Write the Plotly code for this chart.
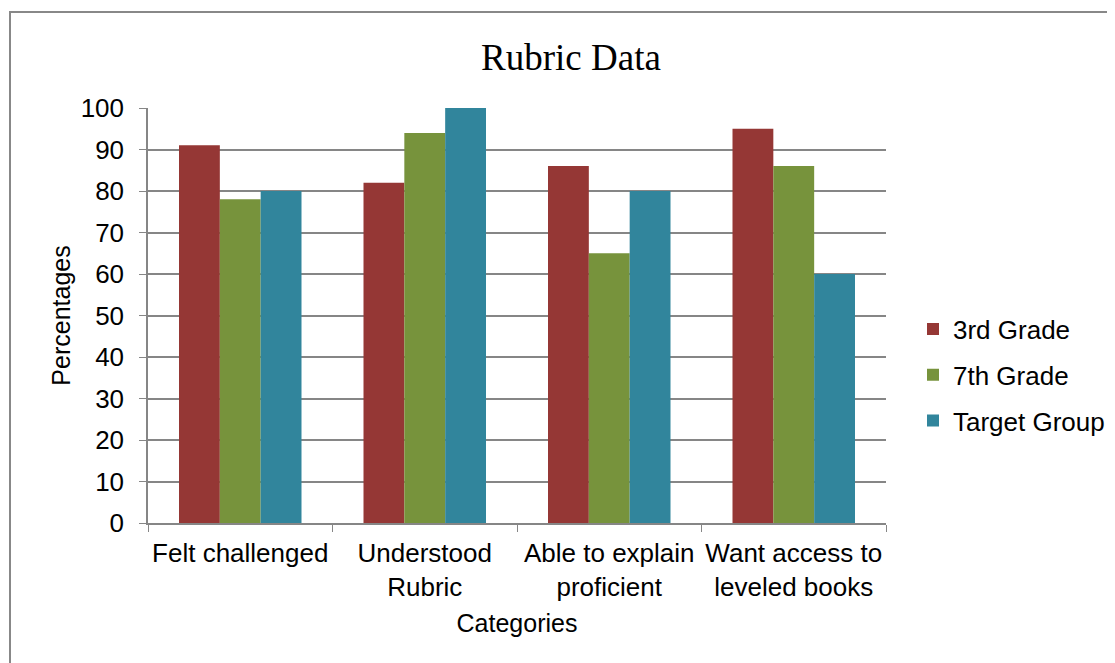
import plotly.graph_objects as go

categories = ["Felt challenged", "Understood<br>Rubric", "Able to explain<br>proficient", "Want access to<br>leveled books"]
grade3 = [91, 82, 86, 95]
grade7 = [78, 94, 65, 86]
target = [80, 100, 80, 60]
series_names = ["3rd Grade", "7th Grade", "Target Group"]
colors = ["#953735", "#77933C", "#31859C"]
y_ticks = [0, 10, 20, 30, 40, 50, 60, 70, 80, 90, 100]

fig = go.Figure()
for name, vals, col in zip(series_names, [grade3, grade7, target], colors):
    fig.add_trace(go.Bar(x=categories, y=vals, name=name, marker_color=col,
                         marker_line_width=0, legendgroup=name))

W, H = 1115, 663
OFF = 8  # page offset of the figure
l, t = 148 - OFF, 108 - OFF
pw, ph = 738, 415
r = W - l - pw
b = H - t - ph

def px_x(x):  # screen x -> paper
    return (x - 148) / pw

def px_y(y):  # screen y -> paper
    return (523 - y) / ph

fig.add_shape(type="rect", xref="paper", yref="paper",
              x0=px_x(10), x1=px_x(1140), y0=px_y(690), y1=px_y(12),
              line=dict(color="#888888", width=2), fillcolor="rgba(0,0,0,0)", layer="below")

fig.update_layout(
    width=W, height=H,
    margin=dict(l=l, r=r, t=t, b=b, autoexpand=False),
    paper_bgcolor="white", plot_bgcolor="white",
    font=dict(family="Liberation Sans, Arial", size=26, color="black"),
    title=dict(text="Rubric Data", font=dict(family="Liberation Serif, Times New Roman", size=37, color="black"),
               x=(571 - OFF) / W, xanchor="center", y=1 - (57 - OFF) / H, yanchor="middle"),
    barmode="group", bargap=0.336, bargroupgap=0,
    showlegend=True,
    legend=dict(x=px_x(913), y=px_y(375), xanchor="left", yanchor="middle",
                font=dict(size=26), traceorder="grouped", tracegroupgap=9,
                bgcolor="rgba(0,0,0,0)"),
    xaxis=dict(type="category", tickson="boundaries", ticks="outside", ticklen=7,
               tickcolor="#868686", showline=True, linecolor="#868686", linewidth=1.5,
               showgrid=False, title=dict(text="Categories", standoff=14, font=dict(size=25)),
               tickfont=dict(size=26), ticklabelstandoff=6, tickangle=0),
    yaxis=dict(range=[0, 100], tickvals=y_ticks, ticks="outside", ticklen=7,
               tickcolor="#868686", showline=True, linecolor="#868686", linewidth=1.5,
               showgrid=True, gridcolor="#868686", gridwidth=1.5, zeroline=False,
               title=dict(text="Percentages", standoff=3, font=dict(size=25)), tickfont=dict(size=26),
               ticklabelstandoff=10),
)

fig.write_html("out.html")
